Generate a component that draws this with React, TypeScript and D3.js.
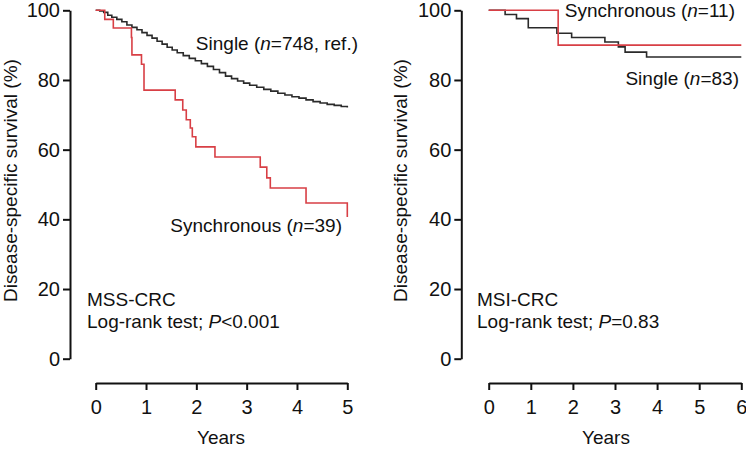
import { useEffect, useRef } from 'react'
import * as d3 from 'd3'

// Kaplan-Meier points: [years, survival %]
const mssSingle: [number, number][] = [
  [0, 100], [0.08, 99.8], [0.16, 99.4], [0.24, 98.6], [0.32, 98.0], [0.42, 97.4],
  [0.52, 96.7], [0.62, 95.8], [0.72, 95.1], [0.82, 94.4], [0.92, 93.6], [1.02, 92.8],
  [1.12, 92.0], [1.22, 91.1], [1.32, 90.3], [1.42, 89.4], [1.52, 88.6], [1.62, 87.8],
  [1.74, 87.0], [1.86, 86.2], [1.98, 85.5], [2.1, 84.7], [2.22, 83.9], [2.34, 83.0],
  [2.46, 82.1], [2.58, 81.1], [2.7, 80.4], [2.82, 79.7], [2.94, 79.1], [3.06, 78.5],
  [3.2, 77.9], [3.34, 77.3], [3.48, 76.8], [3.62, 76.2], [3.76, 75.7], [3.9, 75.2],
  [4.04, 74.8], [4.18, 74.3], [4.32, 73.8], [4.46, 73.4], [4.6, 73.0], [4.74, 72.7],
  [4.88, 72.4], [5.0, 72.1],
]

const mssSync: [number, number][] = [
  [0, 100], [0.18, 97.4], [0.35, 94.9], [0.71, 92.2], [0.72, 87.2], [0.91, 84.5],
  [0.96, 77.1], [1.58, 74.3], [1.73, 71.4], [1.8, 68.6], [1.88, 66.2], [1.92, 63.7],
  [1.99, 60.8], [2.37, 57.9], [3.27, 55.0], [3.4, 51.9], [3.47, 49.0], [4.18, 44.7],
  [5.0, 44.7], [5.0, 40.7],
]

const msiSingle: [number, number][] = [
  [0, 100], [0.39, 98.8], [0.66, 97.6], [0.94, 95.0], [1.62, 93.4], [1.97, 92.2],
  [2.76, 90.9], [3.08, 89.5], [3.24, 88.0], [3.75, 86.6], [6, 86.6],
]

const msiSync: [number, number][] = [
  [0, 100], [1.65, 90.0], [6, 90.0],
]

const yTicks = [0, 20, 40, 60, 80, 100]
const mssXTicks = [0, 1, 2, 3, 4, 5]
const msiXTicks = [0, 1, 2, 3, 4, 5, 6]

const RED = '#d83f45'
const BLACK = '#2a2a2a'
const FONT = '"Liberation Sans", Arial, Helvetica, sans-serif'

interface Panel {
  yAxisX: number
  xRange: [number, number]
  xMax: number
  xTicks: number[]
  yLabelX: number
  yearsX: number
  single: [number, number][]
  sync: [number, number][]
  labels: { x: number; y: number; anchor: string; parts: [string, boolean][] }[]
}

const panels: Panel[] = [
  {
    yAxisX: 70,
    xRange: [95.7, 347.3],
    xMax: 5,
    xTicks: mssXTicks,
    yLabelX: 17,
    yearsX: 221,
    single: mssSingle,
    sync: mssSync,
    labels: [
      { x: 358, y: 50, anchor: 'end', parts: [['Single (', false], ['n', true], ['=748, ref.)', false]] },
      { x: 342, y: 232, anchor: 'end', parts: [['Synchronous (', false], ['n', true], ['=39)', false]] },
      { x: 87, y: 306, anchor: 'start', parts: [['MSS-CRC', false]] },
      { x: 87, y: 328, anchor: 'start', parts: [['Log-rank test; ', false], ['P', true], ['<0.001', false]] },
    ],
  },
  {
    yAxisX: 461.3,
    xRange: [488.7, 741.3],
    xMax: 6,
    xTicks: msiXTicks,
    yLabelX: 407,
    yearsX: 606,
    single: msiSingle,
    sync: msiSync,
    labels: [
      { x: 735, y: 17, anchor: 'end', parts: [['Synchronous (', false], ['n', true], ['=11)', false]] },
      { x: 739, y: 85, anchor: 'end', parts: [['Single (', false], ['n', true], ['=83)', false]] },
      { x: 477, y: 306, anchor: 'start', parts: [['MSI-CRC', false]] },
      { x: 477, y: 328, anchor: 'start', parts: [['Log-rank test; ', false], ['P', true], ['=0.83', false]] },
    ],
  },
]

export default function App() {
  const svgRef = useRef<SVGSVGElement>(null)

  useEffect(() => {
    if (!svgRef.current) return
    const svg = d3.select(svgRef.current)
    svg.selectAll('*').remove()

    const y = d3.scaleLinear().domain([0, 100]).range([358.7, 10.3])

    panels.forEach(p => {
      const x = d3.scaleLinear().domain([0, p.xMax]).range(p.xRange)
      const g = svg.append('g')

      // y axis
      const yAxis = g.append('g')
        .attr('transform', `translate(${p.yAxisX},0)`)
        .call(d3.axisLeft(y).tickValues(yTicks).tickSize(7).tickSizeOuter(0).tickPadding(3))
      yAxis.selectAll('text').style('font-size', '20px').style('font-family', FONT).style('fill', '#111')
      yAxis.selectAll('line').style('stroke', '#111').style('stroke-width', 2)
      yAxis.select('.domain').style('stroke', '#111').style('stroke-width', 2)

      // x axis
      const xAxis = g.append('g')
        .attr('transform', 'translate(0,383)')
        .call(d3.axisBottom(x).tickValues(p.xTicks).tickFormat(d3.format('d')).tickSize(7).tickSizeOuter(0).tickPadding(10))
      xAxis.selectAll('text').style('font-size', '20px').style('font-family', FONT).style('fill', '#111')
      xAxis.selectAll('line').style('stroke', '#111').style('stroke-width', 2)
      xAxis.select('.domain').style('stroke', '#111').style('stroke-width', 2)

      g.append('text')
        .attr('transform', `translate(${p.yLabelX},180.5) rotate(-90)`)
        .attr('text-anchor', 'middle')
        .style('font-size', '19px').style('font-family', FONT).style('fill', '#111')
        .text('Disease-specific survival (%)')

      g.append('text')
        .attr('x', p.yearsX).attr('y', 444)
        .attr('text-anchor', 'middle')
        .style('font-size', '19px').style('font-family', FONT).style('fill', '#111')
        .text('Years')

      const line = d3.line<[number, number]>()
        .x(d => x(d[0]))
        .y(d => y(d[1]))
        .curve(d3.curveStepAfter)

      g.append('path').datum(p.single)
        .attr('fill', 'none').attr('stroke', BLACK).attr('stroke-width', 1.6).attr('d', line)
      g.append('path').datum(p.sync)
        .attr('fill', 'none').attr('stroke', RED).attr('stroke-width', 1.6).attr('d', line)

      p.labels.forEach(l => {
        const t = g.append('text')
          .attr('x', l.x).attr('y', l.y)
          .attr('text-anchor', l.anchor)
          .style('font-size', '19px').style('font-family', FONT).style('fill', '#111')
        l.parts.forEach(([s, it]) => {
          t.append('tspan').style('font-style', it ? 'italic' : 'normal').text(s)
        })
      })
    })
  }, [])

  return (
    <div style={{ position: 'absolute', left: 0, top: 0, width: 746, height: 450, background: '#fff' }}>
      <svg ref={svgRef} width={746} height={450} />
    </div>
  )
}
